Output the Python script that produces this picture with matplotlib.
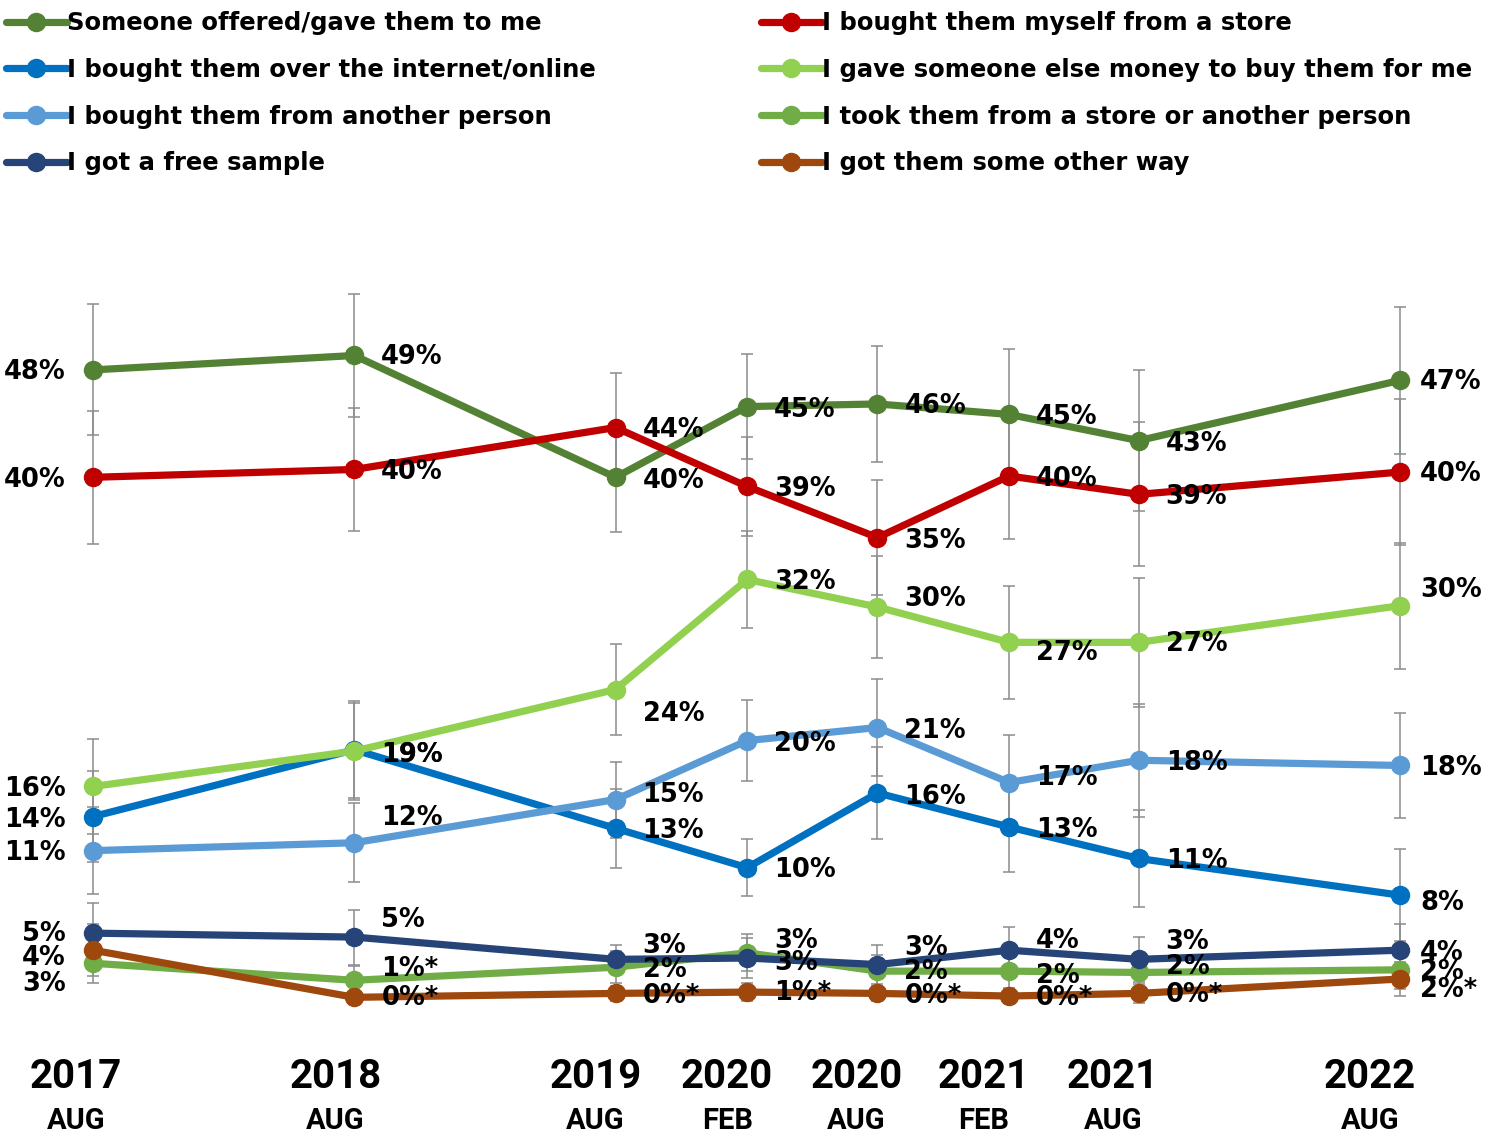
import numpy as np
import pandas as pd
import matplotlib
matplotlib.use("Agg")
import matplotlib.pyplot as plt
import matplotlib.dates as mdates

# survey waves
wave_dates = pd.to_datetime(["2017-08-01", "2018-08-01", "2019-08-01", "2020-02-01",
                             "2020-08-01", "2021-02-01", "2021-08-01", "2022-08-01"])
wave_years = ["2017", "2018", "2019", "2020", "2020", "2021", "2021", "2022"]
wave_months = ["AUG", "AUG", "AUG", "FEB", "AUG", "FEB", "AUG", "AUG"]

# % of respondents
offered = [48.1, 49.2, 39.9, 45.3, 45.5, 44.7, 42.7, 47.3]
store = [39.9, 40.5, 43.7, 39.2, 35.3, 40.0, 38.6, 40.3]
online = [14.0, 19.1, 13.1, 10.1, 15.8, 13.2, 10.8, 8.0]
gave_money = [16.3, 19.0, 23.7, 32.1, 30.0, 27.3, 27.3, 30.1]
other_person = [11.4, 12.0, 15.3, 19.8, 20.8, 16.6, 18.3, 17.9]
took = [2.8, 1.5, 2.5, 3.6, 2.2, 2.2, 2.1, 2.3]
free_sample = [5.1, 4.8, 3.1, 3.2, 2.7, 3.8, 3.1, 3.8]
other_way = [3.8, 0.2, 0.5, 0.6, 0.5, 0.3, 0.5, 1.6]

# margins of error (+/- %)
err_offered = [5.0, 4.7, 4.2, 4.0, 4.4, 5.0, 5.4, 5.6]
err_store = [5.1, 4.7, 4.2, 3.8, 4.4, 4.8, 5.5, 5.6]
err_online = [3.5, 3.7, 3.0, 2.2, 3.5, 3.4, 3.7, 3.5]
err_gave_money = [3.6, 3.7, 3.5, 3.7, 3.9, 4.3, 4.9, 4.8]
err_other_person = [3.3, 3.0, 2.9, 3.1, 3.7, 3.6, 4.3, 4.0]
err_took = [1.5, 1.1, 1.2, 1.4, 1.2, 1.3, 1.4, 1.5]
err_free_sample = [2.3, 2.1, 1.1, 1.5, 1.5, 1.8, 1.7, 2.0]
err_other_way = [2.0, 0.4, 0.6, 0.7, 0.6, 0.5, 0.7, 1.3]

# data labels as printed
lbl_offered = ["48%", "49%", "40%", "45%", "46%", "45%", "43%", "47%"]
lbl_store = ["40%", "40%", "44%", "39%", "35%", "40%", "39%", "40%"]
lbl_online = ["14%", "19%", "13%", "10%", "16%", "13%", "11%", "8%"]
lbl_gave_money = ["16%", "19%", "24%", "32%", "30%", "27%", "27%", "30%"]
lbl_other_person = ["11%", "12%", "15%", "20%", "21%", "17%", "18%", "18%"]
lbl_took = ["3%", "1%*", "2%", "3%", "2%", "2%", "2%", "2%"]
lbl_free_sample = ["5%", "5%", "3%", "3%", "3%", "4%", "3%", "4%"]
lbl_other_way = ["4%", "0%*", "0%*", "1%*", "0%*", "0%*", "0%*", "2%*"]

series = [
    ("Someone offered/gave them to me", offered, err_offered, lbl_offered, "#548235"),
    ("I bought them myself from a store", store, err_store, lbl_store, "#C00000"),
    ("I bought them over the internet/online", online, err_online, lbl_online, "#0070C0"),
    ("I gave someone else money to buy them for me", gave_money, err_gave_money, lbl_gave_money, "#92D050"),
    ("I bought them from another person", other_person, err_other_person, lbl_other_person, "#5B9BD5"),
    ("I took them from a store or another person", took, err_took, lbl_took, "#70AD47"),
    ("I got a free sample", free_sample, err_free_sample, lbl_free_sample, "#264478"),
    ("I got them some other way", other_way, err_other_way, lbl_other_way, "#9E480E"),
]

# vertical nudges of the data labels, in pixels (down is positive)
label_dy = [
    [2, 2, 4, 3, 2, 3, 3, 2],
    [3, 3, 2, 3, 3, 3, 3, 2],
    [3, 5, 3, 2, 4, 3, 3, 8],
    [3, 4, 24, 3, -8, 11, 2, -16],
    [2, -25, -5, 3, 3, -5, 3, 3],
    [21, -11, 3, -12, 1, 5, -5, 2],
    [1, -17, -13, 5, -17, -9, -17, 3],
    [8, 1, 3, 1, 3, 2, 2, 11],
]
# horizontal shift of the date labels from their wave, in pixels
date_dx = [-17, -19, -20, -20, -21, -26, -26, -30]

LABEL_FONT = "DejaVu Sans"
AXIS_FONT = "Roboto"

x = mdates.date2num(wave_dates)

fig = plt.figure(figsize=(14.98, 11.35), dpi=100)
ax = fig.add_axes([0, 0, 1, 1])
ax.axis("off")

days_per_px = 1.397
ax.set_xlim(x[0] - 93 * days_per_px, x[-1] + 98 * days_per_px)
ax.set_ylim(-10.31, 76.34)

handles = []
for i, (name, vals, errs, lbls, color) in enumerate(series):
    ax.errorbar(x, vals, yerr=errs, fmt="none", ecolor="#8c8c8c",
                elinewidth=1.1, capsize=4, capthick=1.1, zorder=1)
    line, = ax.plot(x, vals, color=color, lw=5.2, marker="o", ms=13,
                    solid_capstyle="round", zorder=3 + i, label=name)
    handles.append(line)
    for j, (xv, v, t) in enumerate(zip(x, vals, lbls)):
        if j == 0:
            dx, ha = -27, "right"
        elif j == len(vals) - 1:
            dx, ha = 20, "left"
        else:
            dx, ha = 27, "left"
        ax.annotate(t, (xv, v), xytext=(dx, -label_dy[i][j]), textcoords="offset pixels",
                    ha=ha, va="center", fontsize=18.5, fontweight="bold",
                    family=LABEL_FONT, color="black", zorder=20)

# date labels along the bottom
for xv, yr, mo, dx in zip(x, wave_years, wave_months, date_dx):
    ax.annotate(yr, (xv, 0), xycoords=ax.get_xaxis_transform(), xytext=(dx, 58),
                textcoords="offset pixels", ha="center", va="center",
                fontsize=29, fontweight="bold", family=AXIS_FONT)
    ax.annotate(mo, (xv, 0), xycoords=ax.get_xaxis_transform(), xytext=(dx, 14),
                textcoords="offset pixels", ha="center", va="center",
                fontsize=21, fontweight="bold", family=AXIS_FONT)

# legend in two columns
left_col = [handles[0], handles[2], handles[4], handles[6]]
right_col = [handles[1], handles[3], handles[5], handles[7]]
leg_kw = dict(frameon=False, handlelength=2.5, handletextpad=0.0, labelspacing=0.93,
              borderaxespad=0, borderpad=0,
              prop={"family": LABEL_FONT, "weight": "bold", "size": 17.5})
leg1 = ax.legend(handles=left_col, loc="upper left", bbox_to_anchor=(0.004, 0.990), **leg_kw)
ax.add_artist(leg1)
ax.legend(handles=right_col, loc="upper left", bbox_to_anchor=(0.508, 0.990), **leg_kw)

fig.savefig("out.png", dpi=100)
